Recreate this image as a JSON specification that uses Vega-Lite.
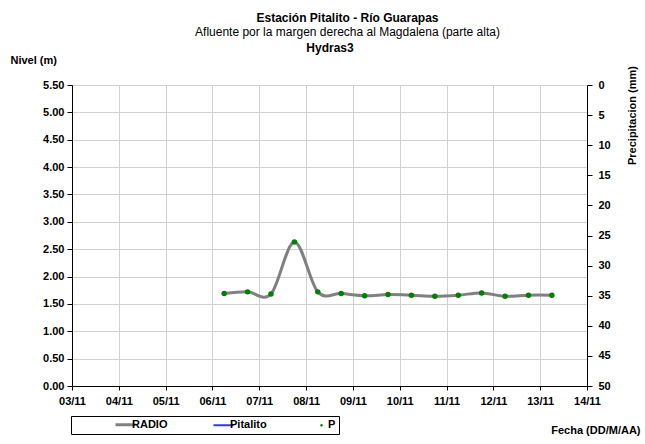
{
  "$schema": "https://vega.github.io/schema/vega-lite/v6.json",
  "autosize": "none",
  "width": 515,
  "height": 301,
  "padding": {"left": 72, "top": 85, "right": 58, "bottom": 58},
  "background": "white",
  "title": {
    "text": "Estación Pitalito  - Río Guarapas",
    "subtitle": "Afluente por la margen derecha al Magdalena (parte alta)",
    "anchor": "middle",
    "frame": "group",
    "dx": 18,
    "offset": 2,
    "font": "Liberation Sans",
    "fontSize": 12,
    "fontWeight": "bold",
    "color": "black",
    "subtitleFont": "Liberation Sans",
    "subtitleFontSize": 12,
    "subtitleFontWeight": "normal",
    "subtitleColor": "black",
    "subtitlePadding": 2
  },
  "config": {
    "view": {"stroke": null},
    "axis": {
      "labelFont": "Liberation Sans",
      "labelFontSize": 11,
      "labelFontWeight": "bold",
      "labelColor": "black",
      "titleFont": "Liberation Sans",
      "titleFontSize": 11,
      "titleFontWeight": "bold",
      "titleColor": "black",
      "domainColor": "black",
      "tickColor": "black",
      "gridColor": "#d0d0d0",
      "gridWidth": 1
    },
    "legend": {
      "labelFont": "Liberation Sans",
      "labelFontSize": 11,
      "labelFontWeight": "bold",
      "labelColor": "black"
    }
  },
  "datasets": {
    "radio": [
      {"fecha": "2013-11-06T06:00:00", "nivel": 1.69, "serie": "RADIO"},
      {"fecha": "2013-11-06T18:00:00", "nivel": 1.72, "serie": "RADIO"},
      {"fecha": "2013-11-07T06:00:00", "nivel": 1.68, "serie": "RADIO"},
      {"fecha": "2013-11-07T18:00:00", "nivel": 2.63, "serie": "RADIO"},
      {"fecha": "2013-11-08T06:00:00", "nivel": 1.72, "serie": "RADIO"},
      {"fecha": "2013-11-08T18:00:00", "nivel": 1.69, "serie": "RADIO"},
      {"fecha": "2013-11-09T06:00:00", "nivel": 1.65, "serie": "RADIO"},
      {"fecha": "2013-11-09T18:00:00", "nivel": 1.67, "serie": "RADIO"},
      {"fecha": "2013-11-10T06:00:00", "nivel": 1.66, "serie": "RADIO"},
      {"fecha": "2013-11-10T18:00:00", "nivel": 1.64, "serie": "RADIO"},
      {"fecha": "2013-11-11T06:00:00", "nivel": 1.66, "serie": "RADIO"},
      {"fecha": "2013-11-11T18:00:00", "nivel": 1.70, "serie": "RADIO"},
      {"fecha": "2013-11-12T06:00:00", "nivel": 1.64, "serie": "RADIO"},
      {"fecha": "2013-11-12T18:00:00", "nivel": 1.66, "serie": "RADIO"},
      {"fecha": "2013-11-13T06:00:00", "nivel": 1.66, "serie": "RADIO"}
    ],
    "precip": []
  },
  "layer": [
    {
      "data": {"name": "radio"},
      "resolve": {"scale": {"x": "shared", "y": "shared"}, "axis": {"x": "shared", "y": "shared"}},
      "encoding": {
        "x": {
          "field": "fecha",
          "type": "temporal",
          "scale": {"domain": [{"year": 2013, "month": 11, "date": 3}, {"year": 2013, "month": 11, "date": 14}]},
          "axis": {
            "format": "%d/%m",
            "tickCount": {"interval": "day", "step": 1},
            "tickSize": 4,
            "labelPadding": 5,
            "labelFlush": false,
            "title": "Fecha (DD/M/AA)",
            "titleX": 568,
            "titleY": 44,
            "titleAlign": "right",
            "titleBaseline": "middle",
            "titleAnchor": null
          }
        },
        "y": {
          "field": "nivel",
          "type": "quantitative",
          "scale": {"domain": [0, 5.5], "nice": false},
          "axis": {
            "values": [0, 0.5, 1, 1.5, 2, 2.5, 3, 3.5, 4, 4.5, 5, 5.5],
            "format": ".2f",
            "tickSize": 5,
            "labelPadding": 3,
            "title": "Nivel (m)",
            "titleAngle": 0,
            "titleX": -62,
            "titleY": -25,
            "titleAlign": "left",
            "titleBaseline": "middle"
          }
        }
      },
      "layer": [
        {
          "mark": {"type": "line", "interpolate": "cardinal", "strokeWidth": 3},
          "encoding": {
            "color": {
              "field": "serie",
              "type": "nominal",
              "scale": {"domain": ["RADIO", "Pitalito", "P"], "range": ["#808080", "#3333ff", "#008000"]},
              "legend": {
                "orient": "none",
                "legendX": -1,
                "legendY": 331,
                "direction": "horizontal",
                "columns": 3,
                "gridAlign": "all",
                "columnPadding": 40,
                "padding": 3,
                "strokeColor": "black",
                "fillColor": "white",
                "symbolType": "stroke",
                "symbolSize": 400,
                "symbolStrokeWidth": 3,
                "labelOffset": 1,
                "title": " ",
                "titleOrient": "left",
                "titlePadding": 46,
                "encode": {
                  "symbols": {
                    "update": {
                      "shape": {"signal": "datum.value === 'P' ? 'circle' : 'stroke'"},
                      "size": {"signal": "datum.value === 'P' ? 6 : 400"},
                      "fill": {"signal": "datum.value === 'P' ? '#008000' : 'transparent'"},
                      "strokeWidth": {"signal": "datum.value === 'RADIO' ? 3 : (datum.value === 'P' ? 0 : 2)"}
                    }
                  }
                }
              }
            }
          }
        },
        {
          "mark": {"type": "point", "filled": true, "color": "#008000", "size": 30, "opacity": 1}
        }
      ]
    },
    {
      "data": {"name": "precip"},
      "mark": {"type": "point", "filled": true, "color": "#008000", "size": 6},
      "encoding": {
        "x": {
          "field": "fecha",
          "type": "temporal",
          "axis": {
            "orient": "top",
            "labels": false,
            "ticks": false,
            "domain": false,
            "grid": false,
            "title": "Hydras3",
            "titleFontSize": 12,
            "titleY": -38,
            "titleBaseline": "middle"
          }
        },
        "y": {
          "field": "p",
          "type": "quantitative",
          "scale": {"domain": [0, 50], "reverse": true, "nice": false},
          "axis": {
            "orient": "right",
            "values": [0, 5, 10, 15, 20, 25, 30, 35, 40, 45, 50],
            "grid": false,
            "tickSize": 5,
            "labelPadding": 6,
            "title": "Precipitacion (mm)",
            "titleAngle": -90,
            "titleX": 45,
            "titleY": 30,
            "titleAlign": "center",
            "titleBaseline": "middle"
          }
        }
      }
    }
  ],
  "resolve": {"scale": {"y": "independent"}, "axis": {"x": "independent"}}
}
